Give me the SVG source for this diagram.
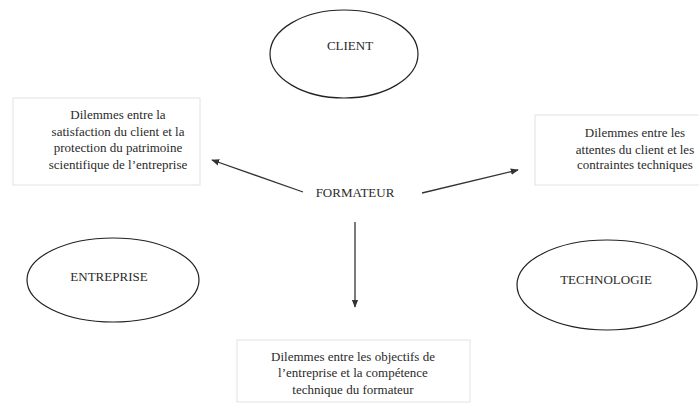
<svg xmlns="http://www.w3.org/2000/svg" width="699" height="410" viewBox="0 0 699 410">
<style>
.t{font-family:"Liberation Serif","Times New Roman",serif;font-size:13px;fill:#2a2a2a;text-anchor:middle}
.e{fill:none;stroke:#222;stroke-width:1.2}
.b{fill:#fff;stroke:#e2e2e2;stroke-width:1}
.c{stroke:#333;stroke-width:1.3;fill:none}
</style>
<defs>
<marker id="ah" viewBox="0 0 10 10" refX="9" refY="5" markerWidth="8" markerHeight="8" markerUnits="userSpaceOnUse" orient="auto">
<path d="M0,1 L10,5 L0,9 Z" fill="#333"/>
</marker>
</defs>
<rect width="699" height="410" fill="#fff"/>
<g id="client"><ellipse class="e" cx="344" cy="54" rx="74" ry="44"/><text class="t" x="350" y="50">CLIENT</text></g>
<g id="entreprise"><ellipse class="e" cx="113" cy="280" rx="86" ry="42"/><text class="t" x="109" y="281">ENTREPRISE</text></g>
<g id="technologie"><ellipse class="e" cx="607" cy="285" rx="90" ry="45"/><text class="t" x="606" y="284">TECHNOLOGIE</text></g>
<g id="formateur"><text class="t" x="355" y="197">FORMATEUR</text></g>
<g id="dilemme-gauche"><rect class="b" x="13" y="98" width="187" height="87"/>
<text class="t" x="118" y="119">Dilemmes entre la</text>
<text class="t" x="118" y="136">satisfaction du client et la</text>
<text class="t" x="118" y="152">protection du patrimoine</text>
<text class="t" x="118" y="169">scientifique de l’entreprise</text></g>
<g id="dilemme-droite"><rect class="b" x="535" y="115" width="170" height="70"/>
<text class="t" x="635" y="137">Dilemmes entre les</text>
<text class="t" x="635" y="154">attentes du client et les</text>
<text class="t" x="635" y="169">contraintes techniques</text></g>
<g id="dilemme-bas"><rect class="b" x="237" y="340" width="233" height="62"/>
<text class="t" x="353" y="361">Dilemmes entre les objectifs de</text>
<text class="t" x="353" y="377">l’entreprise et la compétence</text>
<text class="t" x="353" y="394">technique du formateur</text></g>
<g id="connecteurs">
<line class="c" x1="303" y1="192" x2="212" y2="160" marker-end="url(#ah)"/>
<line class="c" x1="422" y1="193" x2="518" y2="170" marker-end="url(#ah)"/>
<line class="c" x1="355" y1="222" x2="355" y2="307" marker-end="url(#ah)"/>
</g>
</svg>
